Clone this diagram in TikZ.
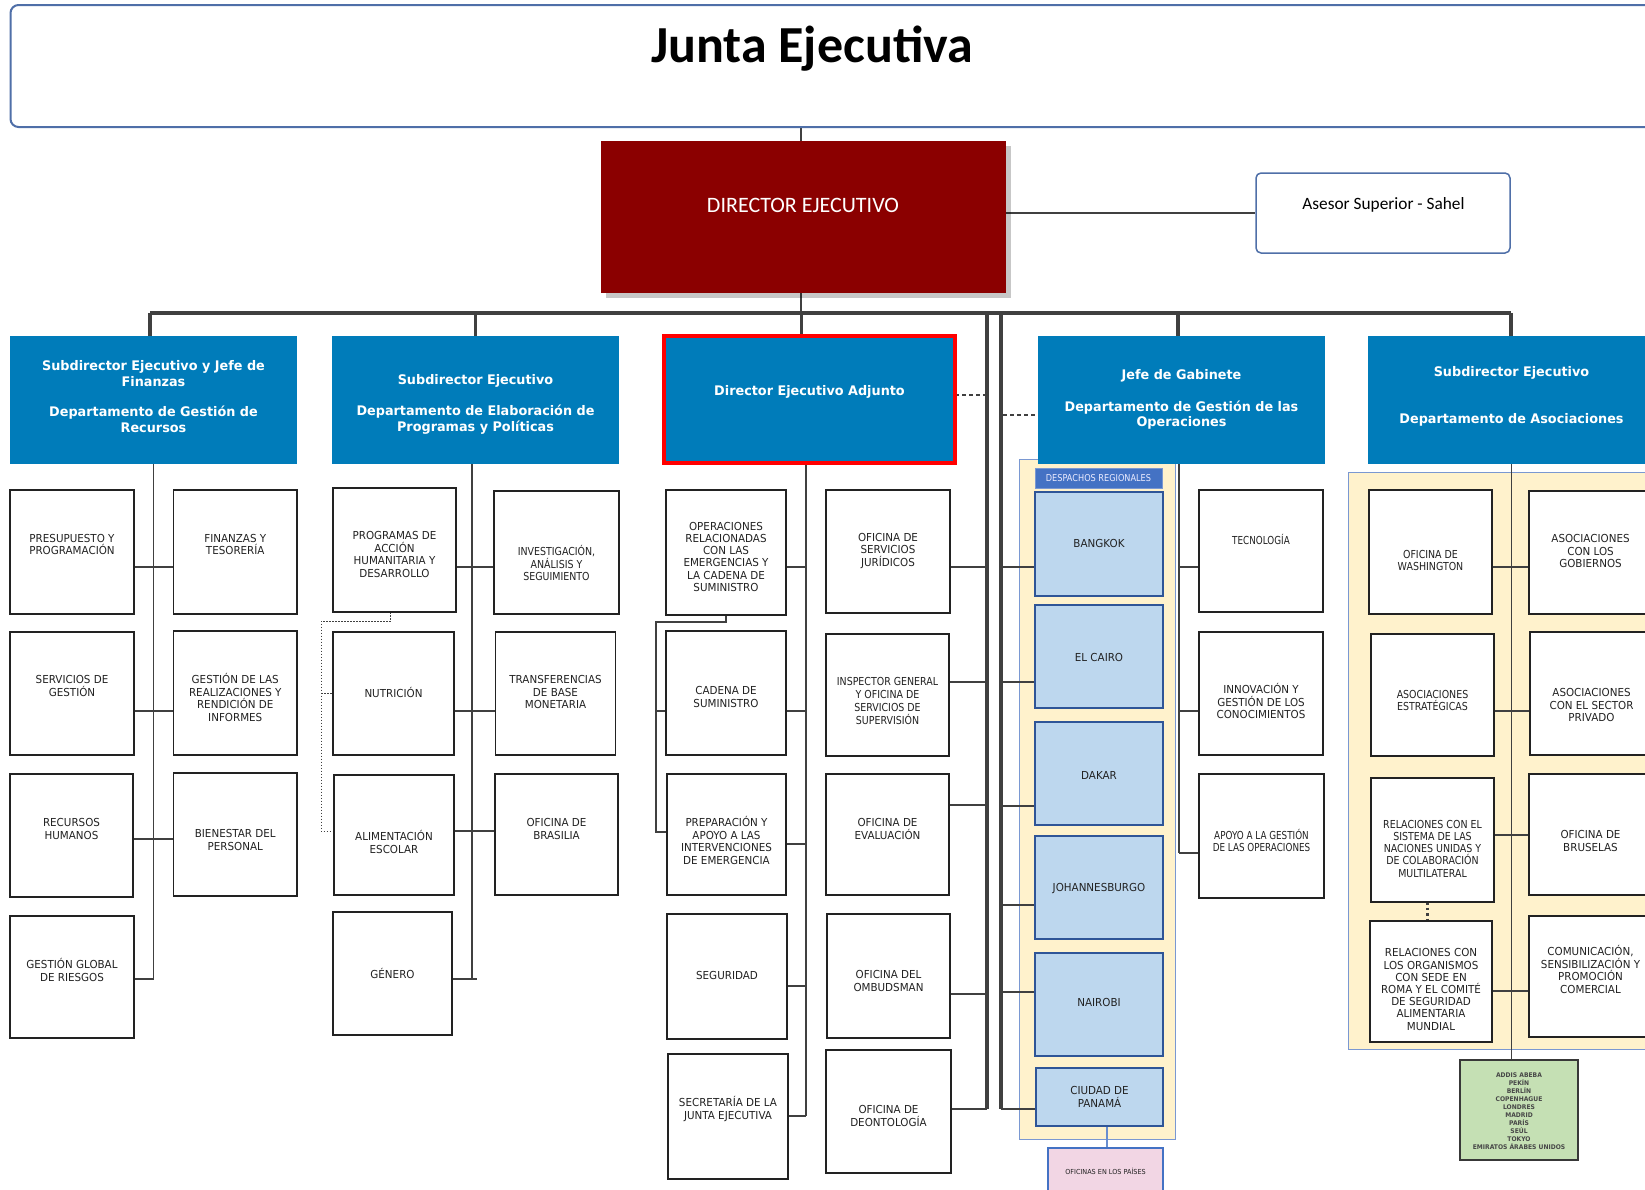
\documentclass[tikz,border=0pt]{standalone}
\usepackage{fontspec}
\setmainfont{DejaVu Sans}
\newfontfamily\vf{DejaVu Sans}[FakeStretch=0.94]
\newfontfamily\vn{DejaVu Sans}[FakeStretch=0.86]
\newfontfamily\vnn{DejaVu Sans}[FakeStretch=0.80]
\newfontfamily\vh{DejaVu Sans}[FakeStretch=0.97]
\newfontfamily\calib{Carlito}
\usetikzlibrary{shadows}
\pgfdeclarelayer{ybg}
\pgfdeclarelayer{lines}
\pgfsetlayers{ybg,lines,main}
\definecolor{wfpblue}{RGB}{0,124,186}
\definecolor{dred}{RGB}{139,0,0}
\definecolor{lineg}{RGB}{64,64,64}
\definecolor{yel}{RGB}{255,242,204}
\definecolor{regfill}{RGB}{189,215,238}
\definecolor{regbd}{RGB}{47,85,151}
\definecolor{hdrblue}{RGB}{68,114,196}
\definecolor{pinkf}{RGB}{242,214,228}
\definecolor{greenf}{RGB}{197,224,180}
\definecolor{frameb}{RGB}{79,111,168}
\definecolor{yelbd}{RGB}{122,152,210}
\definecolor{ink}{RGB}{34,34,34}
\tikzset{
  bx/.style={draw=ink, line width=1.6, fill=white, inner sep=0, outer sep=0},
  hdr/.style={fill=wfpblue, draw=none, inner sep=0, outer sep=0},
  reg/.style={fill=regfill, draw=regbd, line width=1.4, inner sep=0, outer sep=0},
  pink/.style={fill=pinkf, draw=hdrblue, line width=1.2, inner sep=0, outer sep=0},
  grn/.style={fill=greenf, draw=ink!90, line width=1.6, inner sep=0, outer sep=0},
  yreg/.style={fill=yel, draw=yelbd, line width=0.9, inner sep=0, outer sep=0},
  tx/.style={align=center, inner sep=0, text=ink, font=\vf\fontsize{11}{12.7}\selectfont},
  txn/.style={font=\vn\fontsize{11}{12.7}\selectfont},
  txnn/.style={font=\vnn\fontsize{11}{12.7}\selectfont},
  htx/.style={align=center, inner sep=0, text=white, font=\vh\bfseries\fontsize{13.2}{15.8}\selectfont},
  conn/.style={draw=lineg, line width=1.3},
  thk/.style={draw=lineg, line width=3.5},
  dotl/.style={draw=lineg, line width=1, dash pattern=on 1.5pt off 1.5pt},
  dashl/.style={draw=lineg, line width=1.2, dash pattern=on 4pt off 3pt},
}
% box: [text style]{box style}{name}{x1}{y1}{x2}{y2}{text y}{text}
\newcommand\bx[9][]{%
  \node[#2, minimum width={(#6)-(#4)}, minimum height={(#7)-(#5)}] (#3) at ({((#4)+(#6))/2},{((#5)+(#7))/2}) {};
  \node[tx,#1] (#3t) at ({((#4)+(#6))/2},#8) {#9};}

\begin{document}
\begin{tikzpicture}[x=1pt,y=-1pt]
\useasboundingbox (0,0) rectangle (1645,1189);
\clip (0,0) rectangle (1645,1189);

% level coordinates
\foreach \v in {395,415,567,682,711,805,806,831,832,835,839,844,853,905,979,986,991,992,994,1109,1116}
  {\coordinate (y\v) at (0,\v);}
\coordinate (busL) at (150,313);
\coordinate (busR) at (1511,313);
\coordinate (tv1) at (987,313);
\coordinate (tv2) at (1001,313);
\coordinate (dotL) at (321,621);
\coordinate (opsL) at (656,622);

% top
\node[draw=frameb, line width=2, rounded corners=8, minimum width=1650, minimum height=122, inner sep=0] (junta) at (835.5,66) {};
\node[anchor=base, inner sep=0, font=\calib\bfseries\fontsize{52}{62}\selectfont] (title) at (812,62) {Junta Ejecutiva};

\node[fill=dred, inner sep=0, minimum width=405, minimum height=152,
      drop shadow={shadow xshift=5pt, shadow yshift=-5pt, fill=black, opacity=0.22}] (dir) at (803.5,217) {};
\node[anchor=base, inner sep=0, text=white, font=\calib\fontsize{22}{26}\selectfont] (dirt) at (803,212.5) {DIRECTOR EJECUTIVO};

\node[draw=frameb, line width=1.5, rounded corners=5, fill=white, inner sep=0, minimum width=254, minimum height=80] (ases) at (1383,213) {};
\node[anchor=base, inner sep=0, font=\calib\fontsize{17.3}{20}\selectfont] (asest) at (1383.5,209) {Asesor Superior - Sahel};

% yellow regions
\begin{pgfonlayer}{ybg}
\node[yreg, minimum width=156, minimum height=680] (yr1) at (1097,799) {};
\node[yreg, minimum width=352, minimum height=577] (yr2) at (1524,760.5) {};
\end{pgfonlayer}

% blue headers
\node[hdr, minimum width=287, minimum height=128] (A1) at (153.5,400) {};
\node[htx] (A1t) at (153.5,396.5) {Subdirector Ejecutivo y Jefe de\\Finanzas\\[15pt]Departamento de Gestión de\\Recursos};
\node[hdr, minimum width=287, minimum height=128] (A2) at (475.5,400) {};
\node[htx] (A2t) at (475.5,404.5) {Subdirector Ejecutivo\\[15pt]Departamento de Elaboración de\\Programas y Políticas};
\node[fill=wfpblue, draw=red, line width=4, inner sep=0, outer sep=0, minimum width=291.3, minimum height=127] (dea) at (809.35,399.5) {};
\node[htx] (deat) at (809.5,392) {Director Ejecutivo Adjunto};
\node[hdr, minimum width=287, minimum height=128] (jefe) at (1181.5,400) {};
\node[htx] (jefet) at (1181.5,399.5) {Jefe de Gabinete\\[16pt]Departamento de Gestión de las\\Operaciones};
\node[hdr, minimum width=287, minimum height=128] (asoc) at (1511.5,400) {};
\node[htx] (asoct) at (1511.5,396.5) {Subdirector Ejecutivo\\[31pt]Departamento de Asociaciones};

% column A1
\bx{bx}{pres}{10}{490}{134}{614}{544.5}{PRESUPUESTO Y\\PROGRAMACIÓN}
\bx{bx}{fin}{173.5}{490}{297}{614}{544.5}{FINANZAS Y\\TESORERÍA}
\bx{bx}{sgest}{10}{632}{134}{755}{686}{SERVICIOS DE\\GESTIÓN}
\bx{bx}{real}{173.5}{631}{297}{755}{697.5}{GESTIÓN DE LAS\\REALIZACIONES Y\\RENDICIÓN DE\\INFORMES}
\bx{bx}{rrhh}{10}{774}{133}{897}{829}{RECURSOS\\HUMANOS}
\bx{bx}{bien}{173.5}{773}{297}{896}{840}{BIENESTAR DEL\\PERSONAL}
\bx{bx}{ggr}{10}{916}{134}{1038}{970}{GESTIÓN GLOBAL\\DE RIESGOS}

% column A2
\bx{bx}{prog}{333}{488}{456}{612}{554.5}{PROGRAMAS DE\\ACCIÓN\\HUMANITARIA Y\\DESARROLLO}
\bx[txn]{bx}{inv}{494}{491}{619}{614}{563}{INVESTIGACIÓN,\\ANÁLISIS Y\\SEGUIMIENTO}
\bx{bx}{nut}{333}{632}{454}{755}{692}{NUTRICIÓN}
\bx{bx}{tra}{495.5}{632}{615.5}{755}{692}{TRANSFERENCIAS\\DE BASE\\MONETARIA}
\bx{bx}{ali}{334}{775}{454}{895}{842}{ALIMENTACIÓN\\ESCOLAR}
\bx{bx}{bra}{495}{774}{618}{895}{829}{OFICINA DE\\BRASILIA}
\bx{bx}{gen}{333}{912}{452}{1035}{973}{GÉNERO}

% column DEA
\bx[font=\vf\fontsize{11}{12.2}\selectfont]{bx}{ops}{666}{490}{786}{615}{556.7}{OPERACIONES\\RELACIONADAS\\CON LAS\\EMERGENCIAS Y\\LA CADENA DE\\SUMINISTRO}
\bx{bx}{jur}{826}{490}{950}{613}{551}{OFICINA DE\\SERVICIOS\\JURÍDICOS}
\bx{bx}{cad}{666}{631}{786}{755}{697}{CADENA DE\\SUMINISTRO}
\bx[txn]{bx}{insp}{826}{634}{949}{756}{701}{INSPECTOR GENERAL\\Y OFICINA DE\\SERVICIOS DE\\SUPERVISIÓN}
\bx{bx}{prep}{667}{774}{786}{895}{840.5}{PREPARACIÓN Y\\APOYO A LAS\\INTERVENCIONES\\DE EMERGENCIA}
\bx{bx}{eva}{826}{774}{949}{895}{829}{OFICINA DE\\EVALUACIÓN}
\bx{bx}{seg}{667}{914}{787}{1039}{975}{SEGURIDAD}
\bx{bx}{omb}{827}{914}{950}{1038}{981}{OFICINA DEL\\OMBUDSMAN}
\bx{bx}{sec}{668}{1054}{788}{1179}{1109}{SECRETARÍA DE LA\\JUNTA EJECUTIVA}
\bx{bx}{deo}{826}{1050}{951}{1173}{1116}{OFICINA DE\\DEONTOLOGÍA}

% regional offices
\node[fill=hdrblue, draw=yelbd, line width=0.8, inner sep=0, minimum width=127, minimum height=20] (desp) at (1098.5,478) {};
\node[inner sep=0, text=white!92!blue, font=\vn\fontsize{9.5}{11}\selectfont] (despt) at (1098.5,478.5) {DESPACHOS REGIONALES};
\bx{reg}{bkk}{1035}{492}{1163}{596}{543}{BANGKOK}
\bx{reg}{cai}{1035}{605}{1163}{708}{657}{EL CAIRO}
\bx{reg}{dak}{1035}{722}{1163}{825}{775}{DAKAR}
\bx{reg}{joh}{1035}{836}{1163}{939}{889}{JOHANNESBURGO}
\bx{reg}{nai}{1035}{953}{1163}{1056}{1002}{NAIROBI}
\bx{reg}{pan}{1036}{1068}{1163}{1126}{1097}{CIUDAD DE\\PANAMÁ}
\bx[font=\vf\fontsize{6.9}{8}\selectfont]{pink}{ofp}{1048}{1148}{1163}{1200}{1171}{OFICINAS EN LOS PAÍSES}

% column Jefe
\bx[txnn]{bx}{tec}{1199}{490}{1323}{612}{539}{TECNOLOGÍA}
\bx{bx}{inn}{1199}{632}{1323}{755}{701}{INNOVACIÓN Y\\GESTIÓN DE LOS\\CONOCIMIENTOS}
\bx[txnn]{bx}{apo}{1199}{774}{1324}{898}{840.5}{APOYO A LA GESTIÓN\\DE LAS OPERACIONES}

% column Asociaciones
\bx[txn]{bx}{was}{1369}{490}{1492}{614}{560.5}{OFICINA DE\\WASHINGTON}
\bx{bx}{gob}{1529}{491}{1652}{614}{551}{ASOCIACIONES\\CON LOS\\GOBIERNOS}
\bx[txn]{bx}{est}{1371}{634}{1494}{756}{700.5}{ASOCIACIONES\\ESTRATÉGICAS}
\bx{bx}{pri}{1530}{632}{1653}{755}{705}{ASOCIACIONES\\CON EL SECTOR\\PRIVADO}
\bx[font=\vn\fontsize{11}{12.25}\selectfont]{bx}{sis}{1371}{778}{1494}{902}{848.5}{RELACIONES CON EL\\SISTEMA DE LAS\\NACIONES UNIDAS Y\\DE COLABORACIÓN\\MULTILATERAL}
\bx{bx}{bru}{1529}{774}{1652}{895}{841}{OFICINA DE\\BRUSELAS}
\bx[font=\vf\fontsize{11}{12.2}\selectfont]{bx}{rom}{1370}{921}{1492}{1042}{989.5}{RELACIONES CON\\LOS ORGANISMOS\\CON SEDE EN\\ROMA Y EL COMITÉ\\DE SEGURIDAD\\ALIMENTARIA\\MUNDIAL}
\bx{bx}{com}{1529}{916}{1652}{1037}{969.5}{COMUNICACIÓN,\\SENSIBILIZACIÓN Y\\PROMOCIÓN\\COMERCIAL}
\bx[font=\vf\bfseries\fontsize{6.4}{8}\selectfont, text=black!72]{grn}{ciu}{1460}{1060}{1578}{1160}{1111}{ADDIS ABEBA\\PEKÍN\\BERLÍN\\COPENHAGUE\\LONDRES\\MADRID\\PARÍS\\SEÚL\\TOKYO\\EMIRATOS ÁRABES UNIDOS}

% connectors
\begin{pgfonlayer}{lines}
\draw[conn, line width=1.8] ([xshift=-2.5pt]dir.north) -- ([xshift=-2.5pt]dir.north |- junta.south);
\draw[conn] (dir.east |- ases.west) -- (ases.west);
\draw[conn, line width=1.8] ([xshift=-2.5pt]dir.south) -- ([xshift=-2.5pt]dir.south |- busL);
\draw[lineg, line width=4] (busL) -- (busR);
\draw[thk] (busL) -- (busL |- A1.north);
\draw[thk] (A2.north |- busL) -- (A2.north);
\draw[thk] ([xshift=-8pt]dea.north |- busL) -- ([xshift=-8pt]dea.north);
\draw[thk] ([xshift=-3.5pt]jefe.north |- busL) -- ([xshift=-3.5pt]jefe.north);
\draw[thk] (busR) -- (busR |- asoc.north);
\draw[thk] (tv1) -- (tv1 |- y1109);
\draw[thk] (tv2) -- (tv2 |- y1109);

% A1
\draw[conn] (A1.south) -- (A1.south |- y979);
\draw[conn] (pres.east |- y567) -- (fin.west |- y567);
\draw[conn] (sgest.east |- y711) -- (real.west |- y711);
\draw[conn] (rrhh.east |- y839) -- (bien.west |- y839);
\draw[conn] (ggr.east |- y979) -- (A1.south |- y979);
% A2
\draw[conn] ([xshift=-3.5pt]A2.south) -- ([xshift=-3.5pt]A2.south |- y979);
\draw[conn] (prog.east |- y567) -- (inv.west |- y567);
\draw[conn] (nut.east |- y711) -- (tra.west |- y711);
\draw[conn] (ali.east |- y831) -- (bra.west |- y831);
\draw[conn] (gen.east |- y979) -- ([xshift=1pt]A2.south |- y979);
\draw[dotl] ([xshift=-4pt]prog.south) |- (dotL) |- (ali.west |- y831);
\draw[dotl] (dotL |- nut.west) -- (nut.west);
% DEA
\draw[conn] ([xshift=-3.5pt]dea.south) -- ([xshift=-3.5pt]dea.south |- y1116);
\draw[conn] (ops.east |- y567) -- ([xshift=-3.5pt]dea.south |- y567);
\draw[conn] (cad.east |- y711) -- ([xshift=-3.5pt]dea.south |- y711);
\draw[conn] (prep.east |- y844) -- ([xshift=-3.5pt]dea.south |- y844);
\draw[conn] (seg.east |- y986) -- ([xshift=-3.5pt]dea.south |- y986);
\draw[conn] (sec.east |- y1116) -- ([xshift=-3.5pt]dea.south |- y1116);
\draw[conn] (ops.south) |- (opsL) |- (prep.west |- y832);
\draw[conn] (opsL |- y711) -- (cad.west |- y711);
\draw[conn] (jur.east |- y567) -- (tv1 |- y567);
\draw[conn] (insp.east |- y682) -- (tv1 |- y682);
\draw[conn] (eva.east |- y805) -- (tv1 |- y805);
\draw[conn] (omb.east |- y994) -- (tv1 |- y994);
\draw[conn] (deo.east |- y1109) -- (tv1 |- y1109);
\draw[dashl] (dea.east |- y395) -- (tv1 |- y395);
\draw[dashl] ([xshift=2pt]tv2 |- y415) -- (jefe.west |- y415);
% regional
\draw[conn] (tv2 |- y567) -- (bkk.west |- y567);
\draw[conn] (tv2 |- y682) -- (cai.west |- y682);
\draw[conn] (tv2 |- y806) -- (dak.west |- y806);
\draw[conn] (tv2 |- y905) -- (joh.west |- y905);
\draw[conn] (tv2 |- y992) -- (nai.west |- y992);
\draw[conn] (tv2 |- y1109) -- (pan.west |- y1109);
\draw[draw=hdrblue!80, line width=1.2] ([xshift=7.5pt]pan.south) -- ([xshift=7.5pt]pan.south |- ofp.north);
% Jefe
\draw[conn] ([xshift=-2.5pt]jefe.south) -- ([xshift=-2.5pt]jefe.south |- y853);
\draw[conn] ([xshift=-2.5pt]jefe.south |- y567) -- (tec.west |- y567);
\draw[conn] ([xshift=-2.5pt]jefe.south |- y711) -- (inn.west |- y711);
\draw[conn] ([xshift=-2.5pt]jefe.south |- y853) -- (apo.west |- y853);
% Asociaciones
\draw[conn] (asoc.south) -- (asoc.south |- ciu.north);
\draw[conn] (was.east |- y567) -- (gob.west |- y567);
\draw[conn] (est.east |- y711) -- (pri.west |- y711);
\draw[conn] (sis.east |- y835) -- (bru.west |- y835);
\draw[conn] (rom.east |- y991) -- (com.west |- y991);
\draw[lineg, line width=2.5, dash pattern=on 2.5pt off 3pt] ([xshift=-5pt]sis.south) -- ([xshift=-5pt]sis.south |- rom.north);
\end{pgfonlayer}
\end{tikzpicture}
\end{document}
